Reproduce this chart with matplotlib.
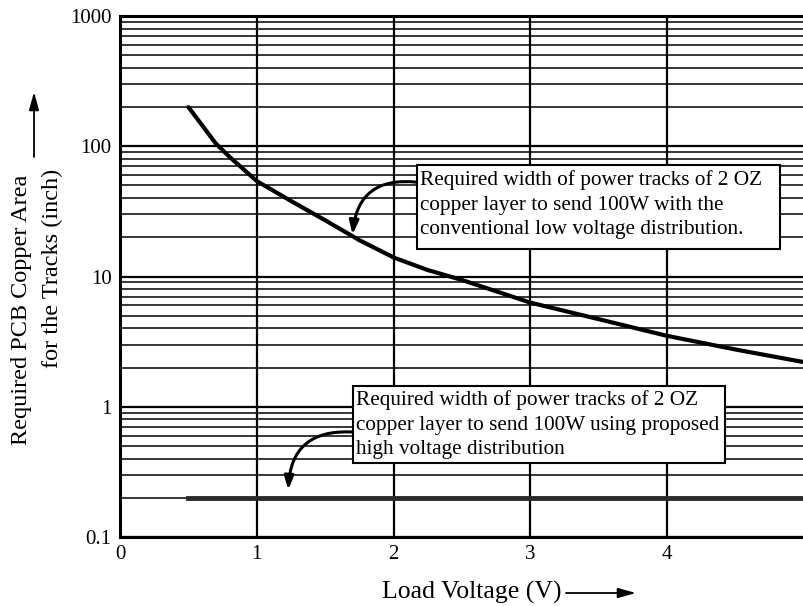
import matplotlib
matplotlib.use('Agg')
import matplotlib.pyplot as plt
from matplotlib.patches import FancyArrowPatch, Rectangle
from matplotlib.ticker import LogLocator, FixedLocator, FixedFormatter, NullFormatter

# ---- data ----
voltage = [0.5, 0.6, 0.7, 0.8, 0.9, 1.0, 1.25, 1.5, 1.75, 2.0, 2.25, 2.5, 3.0, 3.5, 4.0, 4.5, 5.0]
area_conventional = [200, 145, 105, 83, 67, 54, 38, 27, 19, 14, 11.2, 9.4, 6.3, 4.7, 3.5, 2.75, 2.2]
voltage_proposed = [0.5, 5.0]
area_proposed = [0.2, 0.2]

x_ticks = [0, 1, 2, 3, 4]
x_tick_labels = ['0', '1', '2', '3', '4']
y_ticks = [0.1, 1, 10, 100, 1000]
y_tick_labels = ['0.1', '1', '10', '100', '1000']

note_conventional = ("Required width of power tracks of 2 OZ\n"
                     "copper layer to send 100W with the\n"
                     "conventional low voltage distribution.")
note_proposed = ("Required width of power tracks of 2 OZ\n"
                 "copper layer to send 100W using proposed\n"
                 "high voltage distribution")
xlabel_text = "Load Voltage (V)"
ylabel_line1 = "Required PCB Copper Area"
ylabel_line2 = "for the Tracks (inch)"

plt.rcParams['font.family'] = ['Liberation Serif', 'DejaVu Serif']

W, H = 804, 606
fig = plt.figure(figsize=(W / 100, H / 100), dpi=100)
ax = fig.add_axes([120 / W, 1 - 537 / H, (W - 120) / W, (537 - 16) / H])

ax.set_yscale('log')
ax.set_xlim(0, 5)
ax.set_ylim(0.1, 1000)

ax.xaxis.set_major_locator(FixedLocator(x_ticks))
ax.xaxis.set_major_formatter(FixedFormatter(x_tick_labels))
ax.yaxis.set_major_locator(FixedLocator(y_ticks))
ax.yaxis.set_major_formatter(FixedFormatter(y_tick_labels))
ax.yaxis.set_minor_locator(LogLocator(base=10, subs=range(2, 10)))
ax.yaxis.set_minor_formatter(NullFormatter())

ax.grid(which='major', axis='both', color='black', lw=1.6)
ax.grid(which='minor', axis='y', color='black', lw=1.1)
ax.set_axisbelow(True)

ax.tick_params(which='both', length=0, labelsize=15, pad=6)
for s in ['left', 'bottom', 'top']:
    ax.spines[s].set_linewidth(2.2)
ax.spines['right'].set_visible(False)

ax.plot(voltage, area_conventional, color='black', lw=3, solid_capstyle='round',
        solid_joinstyle='round', zorder=3)
ax.plot(voltage_proposed, area_proposed, color='#2a2a2a', lw=3.5, zorder=3)


def pbox(x0, y0, x1, y1):
    fig.add_artist(Rectangle((x0 / W, 1 - y1 / H), (x1 - x0) / W, (y1 - y0) / H,
                             transform=fig.transFigure, fc='white', ec='black', lw=1.5,
                             zorder=5))


pbox(417, 165, 780, 249)
pbox(353, 386, 725, 463)
fig.text(420 / W, 1 - 170 / H, note_conventional, ha='left', va='top', fontsize=15.3,
         linespacing=1.4, zorder=6)
fig.text(356 / W, 1 - 390 / H, note_proposed, ha='left', va='top', fontsize=15.3,
         linespacing=1.4, zorder=6)

arrow = dict(arrowstyle='-|>,head_length=0.8,head_width=0.28', connectionstyle='arc3,rad=0.5',
             color='black', lw=2.2, shrinkA=0, shrinkB=0)
ax.annotate('', xy=(1.70, 21), xytext=(2.17, 53), arrowprops=arrow, zorder=7)
ax.annotate('', xy=(1.23, 0.23), xytext=(1.70, 0.64), arrowprops=arrow, zorder=7)

# axis labels with arrows
fig.text(22 / W, 1 - 310 / H, ylabel_line1, rotation=90, ha='center', va='center', fontsize=17.5)
fig.text(52 / W, 1 - 268 / H, ylabel_line2, rotation=90, ha='center', va='center', fontsize=17.5)
fig.text(472 / W, 1 - 592 / H, xlabel_text, ha='center', va='center', fontsize=18.5)

ar2 = dict(arrowstyle='-|>,head_length=0.9,head_width=0.25', color='black', lw=1.3,
           shrinkA=0, shrinkB=0)
fig.add_artist(FancyArrowPatch((34 / W, 1 - 157 / H), (34 / W, 1 - 92 / H),
               transform=fig.transFigure, mutation_scale=12, **ar2))
fig.add_artist(FancyArrowPatch((566 / W, 1 - 593 / H), (636 / W, 1 - 593 / H),
               transform=fig.transFigure, mutation_scale=12, **ar2))

fig.savefig('out.png', dpi=100)
